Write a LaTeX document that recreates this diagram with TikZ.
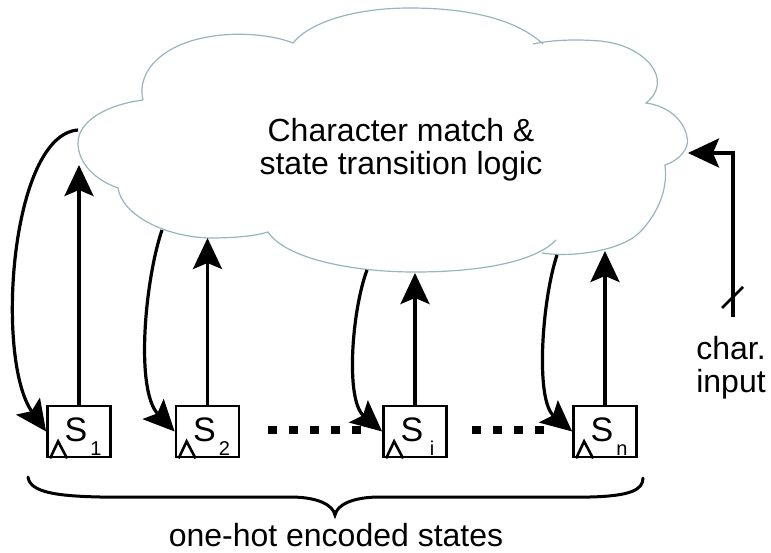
\documentclass[tikz,border=0pt]{standalone}
\usepackage{fontspec}
\setmainfont{Liberation Sans}
\usetikzlibrary{arrows.meta}

\definecolor{cloudline}{RGB}{150,182,188}

\tikzset{
  wire/.style={line width=3.2pt},
  arr/.style={wire, -{Stealth[length=31pt,width=29pt,inset=6pt]}},
  stbox/.style={draw, line width=2.8pt, minimum width=63pt, minimum height=51pt, inner sep=0pt},
  bigtext/.style={font=\fontsize{32}{33}\selectfont, inner sep=0pt},
  sletter/.style={font=\fontsize{34}{34}\selectfont, inner sep=0pt},
  subtext/.style={font=\fontsize{20}{20}\selectfont, inner sep=0pt},
  dots/.style={line width=8pt, dash pattern=on 9pt off 12pt},
}

% one register: box, label S with index, clock triangle
\newcommand\regbox[3]{%
  \node[stbox] (#1) at (#2,431.5) {};
  \node[sletter, anchor=center] (#1l) at ([xshift=-3pt,yshift=2pt]#1.center) {S};
  \node[subtext, anchor=base] (#1i) at ([xshift=17pt,yshift=2.5pt]#1.south) {#3};
  \draw[line width=2.6pt, line join=miter]
    ([xshift=4pt]#1.south west) -- ([xshift=12pt,yshift=17pt]#1.south west)
    -- ([xshift=21pt]#1.south west);
}

\begin{document}
\begin{tikzpicture}[x=1pt,y=-1pt]
\useasboundingbox (0,0) rectangle (771,553);

% logic cloud
\draw[cloudline, line width=1.2pt, fill=white]
  (143,100) .. controls (105,105) and (78,122) .. (78,143)
  .. controls (78,163) and (95,180) .. (118,188)
  .. controls (122,215) and (165,237) .. (210,238)
  .. controls (235,238) and (255,236) .. (268,232)
  .. controls (285,258) and (350,272) .. (415,272)
  .. controls (480,272) and (535,262) .. (556,240)
  (542,253) .. controls (575,258) and (625,250) .. (642,230)
  .. controls (658,212) and (668,190) .. (665,165)
  .. controls (680,160) and (690,148) .. (687,137)
  .. controls (684,120) and (668,106) .. (646,103)
  .. controls (675,80) and (645,45) .. (600,41)
  .. controls (575,39) and (552,40) .. (533,44)
  (543,44) .. controls (515,18) and (465,8) .. (410,8)
  .. controls (355,8) and (310,22) .. (293,43)
  .. controls (265,32) and (215,30) .. (180,45)
  .. controls (150,58) and (138,80) .. (143,100);

% two-line label: the base anchor sits on the last line
\node[bigtext, align=center, anchor=base] (logic) at (401,175)
  {Character match \&\\state transition logic};

% registers
\regbox{s1}{79}{1}
\regbox{s2}{207.5}{2}
\regbox{si}{415}{i}
\regbox{sn}{605}{n}

% points on the cloud outline
\coordinate (c1) at (78,130);
\coordinate (c2) at (162,230);
\coordinate (c3) at (367,270);
\coordinate (c4) at (557,255);
\coordinate (u1) at (79,165);
\coordinate (u2) at (207.5,238);
\coordinate (u3) at (415,273);
\coordinate (u4) at (605,251);

% state outputs into the logic
\draw[arr] (s1.north) -- (u1);
\draw[arr] (s2.north) -- (u2);
\draw[arr] (si.north) -- (u3);
\draw[arr] (sn.north) -- (u4);

% next-state feedback
\draw[arr] (c1) .. controls (10,135) and (-5,360) .. (s1.west);
\draw[arr] (c2) .. controls (145,280) and (135,390) .. (s2.west);
\draw[arr] (c3) .. controls (352,310) and (345,400) .. (si.west);
\draw[arr] (c4) .. controls (542,300) and (535,400) .. (sn.west);

% ellipses between registers
\draw[dots] (268,430) -- (361,430);
\draw[dots] (472,430) -- (545,430);

% character input bus
\coordinate (inp) at (733,317);
\coordinate (cin) at (688,153);
\draw[arr] (inp) |- (cin);
\draw[line width=2.6pt] (722,308) -- (743,287);
\node[bigtext, align=center, anchor=base] (chr) at (731,392) {char.\\input};

% brace under the registers
\draw[line width=3pt, line cap=round]
  (28,477) .. controls (30,492) and (55,496) .. (100,497) -- (290,497)
  .. controls (318,497) and (333,505) .. (335,515)
  .. controls (337,505) and (352,497) .. (380,497) -- (590,497)
  .. controls (630,496) and (643,490) .. (643,478);
\node[bigtext, anchor=base] (states) at (336,546) {one-hot encoded states};
\end{tikzpicture}
\end{document}
